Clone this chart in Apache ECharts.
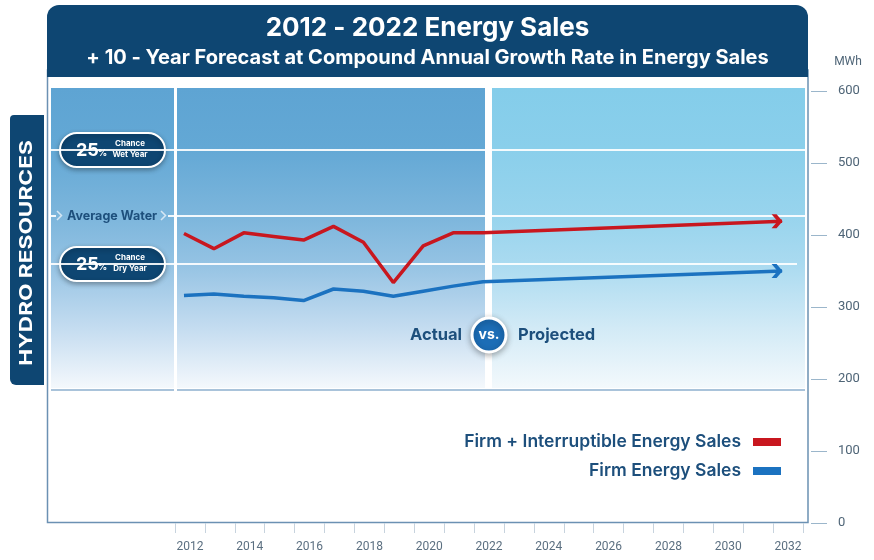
<!DOCTYPE html>
<html>
<head>
<meta charset="utf-8">
<script src="https://cdn.jsdelivr.net/npm/echarts@6/dist/echarts.min.js"></script>
<style>
  html, body { margin: 0; padding: 0; background: #fff; }
  #chart { width: 874px; height: 560px; }
</style>
</head>
<body>
<div id="chart"></div>
<script>
// axis labels
const yearLabels = ['2012', '2013', '2014', '2015', '2016', '2017', '2018', '2019', '2020', '2021', '2022',
  '2023', '2024', '2025', '2026', '2027', '2028', '2029', '2030', '2031', '2032']

// actual sales, MWh
const actualYears = [2012, 2013, 2014, 2015, 2016, 2017, 2018, 2019, 2020, 2021, 2022]
const firmInterruptible = [402, 381, 403, 398, 393, 412, 390, 334, 385, 403, 403]
const firm = [316, 318, 315, 313, 309, 325, 322, 315, 322, 329, 335]

// 10-year forecast end point
const forecastYear = 2032
const forecastFirmInterruptible = 419
const forecastFirm = 350

const NAVY = '#0e4672'
const TEXT_BLUE = '#1d4f7c'
const RED = '#c8171f'
const BLUE = '#1b72c0'
const FONT = 'Inter, Roboto, sans-serif'
const AXIS_FONT = 'Roboto, sans-serif'

// filled chevron used as the arrow head at the forecast end
const chevron = 'path://M0,0 L5,0 L11,7 L5,14 L0,14 L6,7 Z'

const buildLine = (values, endValue, color) => {
  const pts = actualYears.map((y, i) => [y, values[i]])
  pts.push({
    value: [forecastYear, endValue],
    symbol: chevron,
    symbolSize: [11, 14],
    symbolOffset: [-5, 0],
    itemStyle: { color }
  })
  return pts
}

const bandGradient = (stops) => new echarts.graphic.LinearGradient(0, 0, 0, 1,
  stops.map(([offset, color]) => ({ offset, color })))

const actualBand = bandGradient([[0, '#5ea4d3'], [0.2, '#63a8d5'], [0.43, '#7db6dc'], [0.58, '#93c2e3'], [0.8, '#c4dcf0'], [1, '#f4f8fc']])
const projectedBand = bandGradient([[0, '#84cdea'], [0.2, '#8acfeb'], [0.43, '#98d4ed'], [0.58, '#a9daf0'], [0.8, '#d2eaf6'], [1, '#f3f9fc']])

const pill = (cy, line2) => ({
  type: 'group',
  z: 100,
  children: [
    { type: 'rect', shape: { x: 60, y: cy - 17, width: 105, height: 34, r: 17 },
      style: { fill: NAVY, stroke: '#fff', lineWidth: 2, shadowBlur: 5, shadowOffsetY: 2, shadowColor: 'rgba(0,0,0,0.3)' } },
    { type: 'text', x: 76, y: cy + 1, style: { text: '25', font: 'bold 18px ' + FONT, fill: '#fff', verticalAlign: 'middle' } },
    { type: 'text', x: 98, y: cy + 3, style: { text: '%', font: 'bold 9px ' + FONT, fill: '#fff', verticalAlign: 'middle' } },
    { type: 'text', x: 130, y: cy - 6, style: { text: 'Chance', font: 'bold 8px ' + FONT, fill: '#fff', align: 'center', verticalAlign: 'middle' } },
    { type: 'text', x: 130, y: cy + 5, style: { text: line2, font: 'bold 8px ' + FONT, fill: '#fff', align: 'center', verticalAlign: 'middle' } }
  ]
})

const hline = (x1, x2, y, stroke, w) => ({
  type: 'line', z: 1, shape: { x1, y1: y, x2, y2: y }, style: { stroke, lineWidth: w }
})

const chart = echarts.init(document.getElementById('chart'))

chart.setOption({
  animation: false,
  textStyle: { fontFamily: FONT },
  grid: { left: 175, right: 71, top: 91, bottom: 37 },
  legend: [
    {
      data: ['Firm + Interruptible Energy Sales'],
      right: 88, top: 428, align: 'right', icon: 'rect', itemWidth: 28, itemHeight: 8,
      textStyle: { color: TEXT_BLUE, fontSize: 17.5, fontWeight: 600, fontFamily: FONT, padding: [0, 7, 0, 0] }
    },
    {
      data: ['Firm Energy Sales'],
      right: 88, top: 457, align: 'right', icon: 'rect', itemWidth: 28, itemHeight: 8,
      textStyle: { color: TEXT_BLUE, fontSize: 17.5, fontWeight: 600, fontFamily: FONT, padding: [0, 7, 0, 0] }
    }
  ],
  xAxis: [
    {
      type: 'category',
      data: yearLabels,
      boundaryGap: true,
      axisLine: { show: false },
      axisTick: { show: true, interval: 0, length: 10, lineStyle: { color: '#c7d3de' } },
      axisLabel: { interval: 1, margin: 18, color: '#5b6f80', fontSize: 12, fontFamily: AXIS_FONT }
    },
    { type: 'value', min: 2011.7, max: 2032.7, show: false }
  ],
  yAxis: {
    type: 'value',
    position: 'right',
    offset: 8,
    min: 0,
    max: 600,
    interval: 100,
    axisLine: { show: false },
    axisTick: { show: true, length: 16, lineStyle: { color: '#9bb6cb' } },
    axisLabel: { margin: 27, color: '#4f6577', fontSize: 13, fontFamily: AXIS_FONT },
    splitLine: { show: false }
  },
  series: [
    {
      name: 'Firm + Interruptible Energy Sales',
      type: 'line',
      xAxisIndex: 1,
      data: buildLine(firmInterruptible, forecastFirmInterruptible, RED),
      symbol: 'none',
      color: RED,
      lineStyle: { width: 3.5, color: RED },
      z: 5
    },
    {
      name: 'Firm Energy Sales',
      type: 'line',
      xAxisIndex: 1,
      data: buildLine(firm, forecastFirm, BLUE),
      symbol: 'none',
      color: BLUE,
      lineStyle: { width: 3.5, color: BLUE },
      z: 5
    }
  ],
  graphic: [
    // panel frame
    { type: 'rect', z: 0, shape: { x: 47.5, y: 70, width: 760.5, height: 452.5 },
      style: { fill: 'none', stroke: '#6b91b3', lineWidth: 1.5 } },
    // actual / projected backgrounds
    { type: 'rect', z: 0, shape: { x: 51, y: 88, width: 123, height: 300 }, style: { fill: actualBand } },
    { type: 'rect', z: 0, shape: { x: 177, y: 88, width: 308, height: 300 }, style: { fill: actualBand } },
    { type: 'rect', z: 0, shape: { x: 492, y: 88, width: 313, height: 300 }, style: { fill: projectedBand } },
    hline(51, 174, 390, '#a9c3da', 2),
    hline(177, 805, 390, '#a9c3da', 2),
    // hydro levels
    hline(51, 805, 150, 'rgba(255,255,255,0.9)', 2),
    hline(51, 56, 216, 'rgba(255,255,255,0.9)', 2),
    hline(168, 805, 216, 'rgba(255,255,255,0.9)', 2),
    hline(51, 797, 264, 'rgba(255,255,255,0.9)', 2),
    // title banner
    { type: 'rect', z: 50, shape: { x: 47, y: 5, width: 761, height: 72, r: [12, 12, 0, 0] }, style: { fill: NAVY } },
    { type: 'text', z: 51, x: 427.5, y: 28, style: { text: '2012 - 2022 Energy Sales', font: 'bold 26px ' + FONT, fill: '#fff', align: 'center', verticalAlign: 'middle' } },
    { type: 'text', z: 51, x: 427.5, y: 58, style: { text: '+ 10 - Year Forecast at Compound Annual Growth Rate in Energy Sales', font: 'bold 20px ' + FONT, fill: '#fff', align: 'center', verticalAlign: 'middle' } },
    { type: 'text', z: 51, x: 848, y: 62, style: { text: 'MWh', font: '12px ' + AXIS_FONT, fill: '#4f6577', align: 'center', verticalAlign: 'middle' } },
    // hydro resources tab
    { type: 'rect', z: 50, shape: { x: 10, y: 115, width: 34, height: 270, r: [4, 0, 0, 6] }, style: { fill: NAVY } },
    { type: 'text', z: 51, x: 27, y: 253, rotation: Math.PI / 2, scaleX: 1.26,
      style: { text: 'HYDRO RESOURCES', font: 'bold 18px ' + FONT, fill: '#fff', align: 'center', verticalAlign: 'middle' } },
    pill(150, 'Wet Year'),
    pill(264, 'Dry Year'),
    // average water label
    { type: 'polyline', z: 100, shape: { points: [[57, 211], [61.5, 215.5], [57, 220]] }, style: { stroke: '#d6e7f4', lineWidth: 1.5, fill: 'none' } },
    { type: 'polyline', z: 100, shape: { points: [[161, 211], [165.5, 215.5], [161, 220]] }, style: { stroke: '#d6e7f4', lineWidth: 1.5, fill: 'none' } },
    { type: 'text', z: 100, x: 67, y: 216, style: { text: 'Average Water', font: 'bold 12.5px ' + FONT, fill: TEXT_BLUE, verticalAlign: 'middle' } },
    // actual vs projected
    { type: 'text', z: 100, x: 462, y: 335, style: { text: 'Actual', font: 'bold 16.5px ' + FONT, fill: TEXT_BLUE, align: 'right', verticalAlign: 'middle' } },
    { type: 'circle', z: 100, shape: { cx: 489, cy: 335, r: 17 },
      style: { fill: '#1c6db6', stroke: '#fff', lineWidth: 3, shadowBlur: 6, shadowOffsetY: 2, shadowColor: 'rgba(0,0,0,0.3)' } },
    { type: 'text', z: 101, x: 489, y: 335, style: { text: 'vs.', font: 'bold 14px ' + FONT, fill: '#fff', align: 'center', verticalAlign: 'middle' } },
    { type: 'text', z: 100, x: 518, y: 335, style: { text: 'Projected', font: 'bold 16.5px ' + FONT, fill: TEXT_BLUE, verticalAlign: 'middle' } }
  ]
})
</script>
</body>
</html>
